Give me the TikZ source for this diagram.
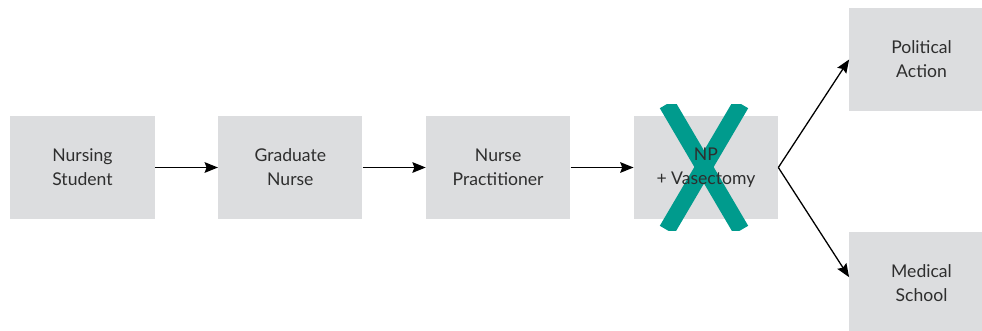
\documentclass[tikz,border=0pt]{standalone}
\usepackage{fontspec}
\setmainfont{Lato}
\usetikzlibrary{arrows.meta,positioning,backgrounds}
\definecolor{grisfondo}{HTML}{DCDDDF}
\definecolor{texto}{HTML}{2E2E2E}
\definecolor{verdeazul}{HTML}{009B8D}
\tikzset{
  etapa/.style={fill=grisfondo,text=texto,align=center,font=\fontsize{15}{20.5}\selectfont,minimum width=4.33cm,minimum height=3.09cm,inner sep=0pt},
  enlace/.style={-{Stealth[length=4mm,width=3.2mm,inset=0.6mm]},line width=1.1pt,black},
  tachado/.style={line width=0.5cm,verdeazul},
}

\begin{document}
\begin{tikzpicture}[x=0.03cm,y=-0.03cm,node distance=1.89cm]
  \useasboundingbox (0,0) rectangle (982,330);
  \node[etapa] (ns) at (82.5,167.5) {Nursing\\Student};
  \node[etapa,right=of ns] (gn) {Graduate\\Nurse};
  \node[etapa,right=of gn] (np) {Nurse\\Practitioner};
  \node[etapa,fill=none,right=of np] (vas) {NP\\+ Vasectomy};
  \node[etapa] (pa) at (921.5,59.5) {Political\\Action};
  \node[etapa] (ms) at (921.5,283.5) {Medical\\School};
  % caja gris y la X debajo del texto
  \begin{scope}[on background layer]
    \fill[grisfondo] (vas.south west) rectangle (vas.north east);
    \clip (640,104) rectangle (770,230);
    \draw[tachado] (667,104) -- (741,230) (741,104) -- (667,230);
  \end{scope}
  \draw[enlace] (ns) -- (gn); \draw[enlace] (gn) -- (np); \draw[enlace] (np) -- (vas);
  \draw[enlace] (vas.east) -- (pa.west);
  \draw[enlace] (vas.east) -- ([yshift=0.19cm]ms.west);
\end{tikzpicture}
\end{document}
